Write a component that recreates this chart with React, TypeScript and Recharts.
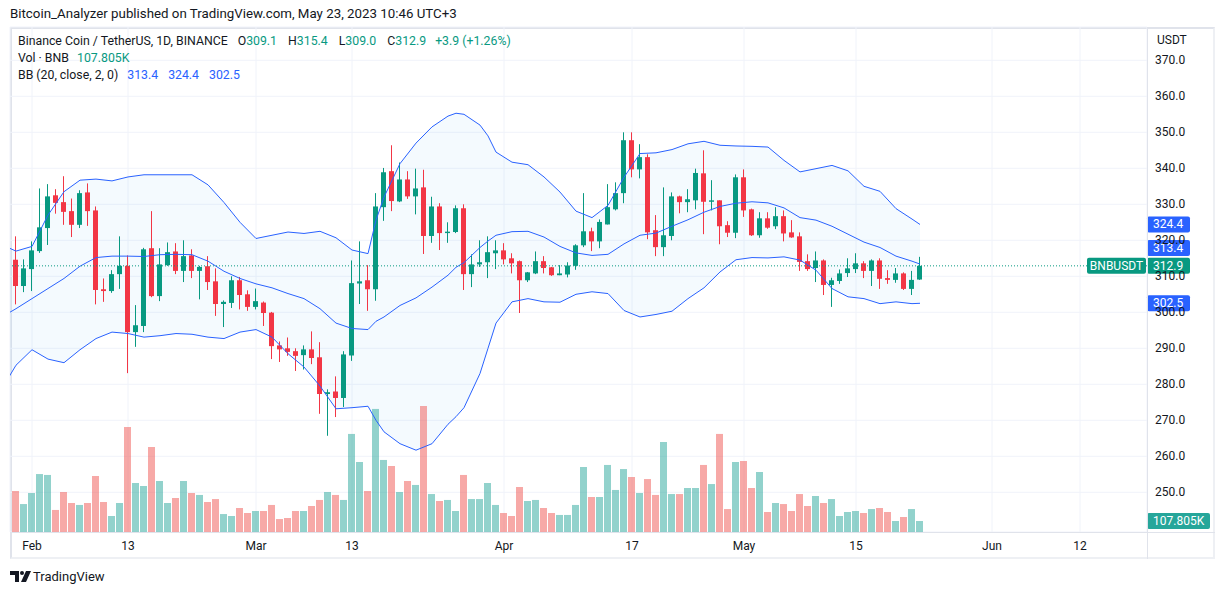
import React from 'react';
import {
  ComposedChart, Bar, Line, Area, XAxis, YAxis, CartesianGrid, ReferenceLine, Cell,
} from 'recharts';

const FONT = "'Trebuchet MS', Roboto, Ubuntu, sans-serif";
const TEXT = '#131722';
const UP = '#089981';
const DOWN = '#f23645';
const BB_BLUE = '#2962ff';
const GRID = '#f0f3fa';
const FRAME = '#e0e3eb';

// daily candles, Jan 30 .. May 23 (index 0 = Jan 30)
const opens = [
  314.6, 307.3, 312.0, 317.0, 323.4, 332.5, 330.6, 328.1, 324.3, 333.3,
  328.3, 306.4, 305.9, 310.6, 312.9, 294.5, 296.2, 317.8, 304.5, 313.1,
  316.9, 311.5, 315.8, 311.5, 312.8, 308.6, 302.3, 302.6, 308.9, 305.0,
  301.5, 302.7, 299.9, 290.8, 290.0, 289.2, 288.1, 289.7, 287.5, 277.3,
  278.0, 276.2, 288.0, 308.0, 308.9, 306.4, 329.2, 339.2, 330.8, 336.9,
  332.2, 334.7, 321.2, 329.4, 322.0, 322.3, 328.9, 310.6, 313.3, 313.9,
  316.4, 317.2, 315.0, 314.2, 308.9, 310.8, 314.2, 312.5, 310.3, 310.5,
  312.9, 318.6, 322.5, 319.7, 324.4, 328.6, 333.1, 347.8, 339.7, 343.1,
  322.8, 318.1, 321.2, 332.2, 330.6, 331.1, 338.6, 330.7, 331.1, 324.2,
  322.1, 337.5, 328.6, 321.4, 326.1, 323.9, 326.7, 322.2, 321.1, 314.2,
  312.3, 314.4, 307.6, 308.7, 310.9, 312.0, 313.6, 311.5, 314.4, 309.5,
  309.0, 310.8, 306.5, 309.1,
];
const highs = [
  321.1, 314.7, 319.7, 334.4, 335.6, 334.2, 337.8, 331.6, 333.9, 335.8,
  329.4, 309.4, 311.7, 321.1, 315.8, 302.0, 317.9, 328.1, 317.8, 319.4,
  319.2, 320.0, 317.5, 312.9, 315.6, 312.2, 303.3, 310.0, 309.8, 306.1,
  306.6, 303.0, 300.1, 291.9, 293.0, 290.0, 290.8, 294.7, 291.7, 278.6,
  282.2, 289.2, 314.4, 319.7, 313.1, 333.1, 340.1, 346.4, 341.6, 339.2,
  339.9, 339.6, 332.1, 330.3, 325.0, 329.7, 330.0, 316.1, 320.0, 321.1,
  320.0, 319.2, 316.4, 314.4, 311.2, 316.9, 315.6, 312.6, 313.1, 313.9,
  318.9, 333.1, 323.5, 325.8, 335.6, 336.1, 350.0, 350.0, 346.7, 343.9,
  327.0, 334.7, 333.3, 332.4, 334.2, 339.9, 345.0, 336.7, 331.1, 325.3,
  338.3, 339.7, 328.8, 327.8, 327.8, 329.2, 328.3, 325.6, 322.2, 316.1,
  316.9, 314.7, 309.6, 311.9, 315.0, 316.4, 314.2, 314.7, 315.0, 311.7,
  312.3, 311.1, 311.5, 315.4,
];
const lows = [
  302.2, 305.6, 305.9, 316.5, 318.7, 327.4, 324.3, 320.9, 323.4, 324.0,
  302.2, 302.9, 305.4, 306.5, 283.1, 290.4, 294.5, 304.2, 303.1, 312.9,
  310.6, 308.4, 309.5, 303.6, 306.2, 299.0, 295.9, 301.2, 300.8, 300.4,
  300.8, 296.2, 287.0, 286.2, 287.9, 283.7, 284.1, 285.6, 271.8, 265.7,
  270.9, 273.7, 286.5, 302.3, 300.4, 303.2, 325.4, 328.1, 330.6, 331.5,
  327.2, 316.2, 319.3, 317.3, 319.3, 322.0, 306.2, 307.0, 312.6, 309.5,
  312.0, 313.3, 310.8, 299.8, 308.4, 310.6, 310.8, 310.1, 310.3, 309.7,
  311.8, 318.1, 317.0, 317.8, 324.4, 328.3, 330.3, 337.5, 337.2, 320.3,
  315.6, 315.6, 320.0, 327.5, 327.8, 328.6, 321.7, 328.3, 318.9, 320.9,
  320.6, 326.5, 321.2, 320.7, 323.2, 323.1, 319.7, 320.7, 311.5, 311.5,
  308.4, 304.8, 301.5, 307.9, 309.8, 310.9, 309.5, 307.3, 306.5, 307.9,
  308.2, 306.2, 304.8, 309.0,
];
const closes = [
  307.3, 312.2, 317.2, 323.6, 332.2, 330.4, 327.9, 324.3, 333.1, 328.1,
  306.2, 305.9, 310.6, 312.9, 294.5, 296.4, 317.5, 304.5, 313.3, 316.7,
  311.5, 315.6, 311.5, 312.6, 308.4, 302.3, 302.9, 308.9, 304.8, 301.5,
  303.1, 299.8, 290.6, 289.7, 289.0, 287.9, 289.7, 287.3, 277.3, 277.8,
  276.2, 288.3, 308.1, 308.6, 306.4, 329.4, 338.9, 330.9, 336.9, 332.2,
  334.4, 321.2, 329.4, 322.0, 322.4, 328.9, 310.6, 313.3, 313.9, 316.7,
  317.2, 314.7, 313.6, 308.9, 311.1, 314.2, 312.3, 310.3, 310.8, 313.0,
  318.6, 322.5, 319.7, 325.1, 329.2, 333.1, 347.8, 339.7, 343.1, 322.2,
  318.1, 321.4, 332.2, 330.6, 331.4, 338.7, 330.7, 331.1, 323.9, 322.1,
  337.5, 328.3, 321.4, 326.1, 323.5, 326.7, 321.9, 320.8, 314.0, 312.0,
  314.4, 307.6, 308.9, 310.8, 312.2, 313.6, 311.5, 314.4, 309.3, 309.0,
  310.8, 306.5, 309.0, 312.9,
];
// volume in thousands of BNB
const volumes = [
  402, 274, 382, 568, 559, 216, 392, 284, 265, 284,
  549, 294, 157, 284, 1029, 480, 451, 833, 500, 284,
  333, 500, 382, 363, 294, 323, 176, 157, 235, 186,
  206, 206, 265, 127, 137, 206, 206, 255, 314, 392,
  363, 314, 961, 686, 402, 1206, 706, 647, 392, 500,
  461, 1235, 372, 304, 314, 206, 559, 323, 323, 480,
  265, 186, 157, 441, 304, 314, 235, 186, 167, 167,
  265, 637, 343, 343, 657, 412, 617, 539, 382, 519,
  363, 882, 372, 372, 431, 431, 657, 470, 961, 225,
  686, 696, 431, 588, 196, 284, 274, 206, 372, 255,
  353, 284, 323, 157, 196, 206, 186, 225, 235, 196,
  108, 147, 225, 107.805,
];

// Bollinger band (20, close, 2) at these day indices
const bbIdx = [
  -1, 0, 2, 4, 6, 8, 10, 12, 14, 16, 18, 20, 22, 24, 26, 28, 30, 32, 34, 36, 38,
  40, 42, 44, 45, 46, 48, 50, 52, 54, 55, 56, 58, 59, 60, 62, 64, 66, 68, 70, 72,
  74, 76, 78, 80, 82, 84, 86, 88, 90, 92, 94, 96, 98, 100, 102, 104, 106, 108, 110, 112, 113,
];
const bbUpper = [
  318.0, 317.0, 318.3, 327.0, 333.5, 336.7, 337.0, 336.5, 337.6, 338.2, 338.2, 338.2, 338.2, 335.4, 330.5, 325.0, 320.5, 321.4, 322.3, 321.9, 322.5,
  320.7, 317.3, 316.3, 325.6, 332.0, 341.3, 347.0, 351.5, 354.5, 355.3, 355.0, 352.0, 349.0, 344.5, 341.7, 341.0, 337.6, 333.4, 328.1, 326.3,
  329.7, 337.5, 344.1, 344.3, 345.2, 346.8, 347.5, 346.4, 346.2, 346.1, 345.9, 342.2, 339.0, 339.9, 340.8, 339.3, 335.0, 333.6, 328.8, 325.9, 324.4,
];
const bbBasis = [
  299.7, 301.0, 303.8, 306.6, 309.4, 312.8, 315.2, 315.6, 315.6, 315.5, 316.0, 316.1, 316.0, 314.2, 311.4, 309.4, 307.9, 306.8, 305.2, 303.8, 301.0,
  297.0, 295.5, 295.2, 297.5, 298.7, 301.9, 304.0, 307.0, 310.3, 312.5, 313.8, 318.0, 319.8, 321.4, 322.4, 322.5, 320.9, 318.3, 316.5, 315.8,
  316.1, 319.0, 321.4, 322.0, 323.9, 325.7, 327.8, 329.4, 330.3, 330.7, 330.4, 329.0, 326.3, 325.6, 323.9, 321.7, 319.5, 318.0, 315.6, 314.2, 313.4,
];
const bbLower = [
  281.6, 285.3, 289.6, 287.0, 286.0, 289.6, 292.7, 294.5, 294.1, 293.1, 293.5, 294.1, 293.9, 293.1, 292.7, 294.5, 295.2, 293.1, 288.5, 284.8, 279.5,
  273.2, 273.5, 273.9, 270.0, 266.8, 263.5, 261.7, 263.5, 268.9, 271.0, 273.5, 283.0, 290.0, 297.0, 302.9, 303.8, 302.9, 302.8, 305.0, 305.7,
  305.2, 300.5, 298.7, 299.4, 300.3, 303.8, 306.8, 311.2, 314.6, 315.2, 315.1, 315.4, 314.5, 311.7, 306.6, 304.3, 303.8, 302.4, 302.9, 302.4, 302.5,
];

const xTicks = [2, 14, 30, 42, 61, 77, 91, 105, 122, 133];
const xTickLabels = ['Feb', '13', 'Mar', '13', 'Apr', '17', 'May', '15', 'Jun', '12'];
const yTicks = [250, 260, 270, 280, 290, 300, 310, 320, 330, 340, 350, 360, 370];

const candles = opens.map((o, i) => ({
  i, o, h: highs[i], l: lows[i], c: closes[i],
  range: [lows[i], highs[i]],
  vol: volumes[i],
}));

const bbData = bbIdx.map((i, k) => ({
  i, up: bbUpper[k], mid: bbBasis[k], lo: bbLower[k], band: [bbLower[k], bbUpper[k]],
}));

const last = candles[candles.length - 1];
const prev = candles[candles.length - 2];
const lastBB = bbData[bbData.length - 1];
const change = last.c - prev.c;

function Candle(props: any) {
  const { x, y, width, height, payload } = props;
  const { o, h, l, c } = payload;
  const top = Math.min(y, y + height);
  const span = Math.abs(height);
  const k = h > l ? span / (h - l) : 0;
  const color = c >= o ? UP : DOWN;
  const cx = Math.round(x + width / 2) - 0.5;
  const bodyTop = top + (h - Math.max(o, c)) * k;
  const bodyH = Math.max(1, Math.abs(o - c) * k);
  return (
    <g>
      <line x1={cx} x2={cx} y1={top} y2={top + span} stroke={color} strokeWidth={1} />
      <rect x={cx - 2.5} y={bodyTop} width={5} height={bodyH} fill={color} />
    </g>
  );
}

const XTick = ({ x, y, payload }: any) => (
  <text x={x} y={y} dy={18} textAnchor="middle" fontSize={12} fill={TEXT} fontFamily={FONT}>
    {xTickLabels[xTicks.indexOf(payload.value)]}
  </text>
);

const YTick = ({ x, y, payload }: any) => (
  <text x={x} y={y} dy={4} textAnchor="start" fontSize={12} fill={TEXT} fontFamily={FONT}>
    {Number(payload.value).toFixed(1)}
  </text>
);

function PriceTag({ viewBox, text, color, w = 43, dy = 0, symbol }: any) {
  if (!viewBox) return null;
  const ax = viewBox.x + viewBox.width;
  const cy = viewBox.y + dy;
  return (
    <g fontFamily={FONT} fontSize={12}>
      {symbol && (
        <g>
          <rect x={ax - 60} y={cy - 8} width={59} height={16} rx={2} fill={color} />
          <text x={ax - 30.5} y={cy} dy={4} textAnchor="middle" fill="#fff">{symbol}</text>
        </g>
      )}
      <rect x={ax} y={cy - 8} width={w} height={16} rx={2} fill={color} />
      <text x={ax + 6} y={cy} dy={4} fill="#fff">{text}</text>
    </g>
  );
}

function TvLogo() {
  return (
    <svg width={22} height={12} viewBox="0 0 22 12" style={{ position: 'absolute', left: 10, top: 571 }}>
      <path d="M0 0h9v11H5V4H0z" fill={TEXT} />
      <circle cx={12} cy={2} r={2} fill={TEXT} />
      <path d="M16 0h5l-5 11h-5z" fill={TEXT} />
    </svg>
  );
}

export default function App() {
  const green = { color: UP };
  const blue = { color: BB_BLUE };
  return (
    <div style={{ position: 'relative', width: 1225, height: 595, background: '#fff', fontFamily: FONT, color: TEXT }}>
      <style>{'body{margin:0}'}</style>
      <div style={{ position: 'absolute', left: 10, top: 6, fontSize: 13.3, whiteSpace: 'nowrap' }}>
        Bitcoin_Analyzer published on TradingView.com, May 23, 2023 10:46 UTC+3
      </div>

      <div style={{ position: 'absolute', left: 10, top: 27, width: 1205, height: 532, border: `2px solid #eef0f4`, boxSizing: 'border-box', borderTopColor: FRAME, borderLeftColor: FRAME }} />

      <ComposedChart
        width={1225}
        height={595}
        data={candles}
        margin={{ top: 27, right: 0, bottom: 36, left: 10 }}
        style={{ position: 'absolute', left: 0, top: 0 }}
      >
        <CartesianGrid stroke={GRID} />
        <XAxis
          dataKey="i" type="number" domain={[-0.75, 141.375]} allowDataOverflow
          ticks={xTicks} interval={0} height={27} tickSize={0} tickMargin={0}
          axisLine={false} tickLine={false} tick={<XTick />}
        />
        <XAxis xAxisId="v" dataKey="i" type="number" domain={[-0.75, 141.375]} allowDataOverflow hide />
        <YAxis
          orientation="right" type="number" domain={[238.97, 379.25]} allowDataOverflow
          ticks={yTicks} interval={0} width={78} tickSize={0} tickMargin={8}
          axisLine={false} tickLine={false} tick={<YTick />}
        />
        <YAxis yAxisId="vol" type="number" domain={[0, 4949]} allowDataOverflow hide />

        <Bar xAxisId="v" yAxisId="vol" dataKey="vol" barSize={7} isAnimationActive={false}>
          {candles.map((d) => (
            <Cell key={d.i} fill={d.c >= d.o ? '#26a69a' : '#ef5350'} fillOpacity={0.5} />
          ))}
        </Bar>

        <Area data={bbData} dataKey="band" type="linear" stroke="none" fill="#2196f3" fillOpacity={0.05} isAnimationActive={false} />
        <Line data={bbData} dataKey="up" type="linear" stroke={BB_BLUE} strokeWidth={1} dot={false} isAnimationActive={false} />
        <Line data={bbData} dataKey="mid" type="linear" stroke={BB_BLUE} strokeWidth={1} dot={false} isAnimationActive={false} />
        <Line data={bbData} dataKey="lo" type="linear" stroke={BB_BLUE} strokeWidth={1} dot={false} isAnimationActive={false} />

        <Bar dataKey="range" barSize={5} shape={<Candle />} isAnimationActive={false} />

        <ReferenceLine
          y={last.c} stroke={UP} strokeDasharray="1 2"
          label={<PriceTag text={last.c.toFixed(1)} color={UP} symbol="BNBUSDT" />}
        />
        <ReferenceLine y={lastBB.up} stroke="none" label={<PriceTag text={lastBB.up.toFixed(1)} color={BB_BLUE} />} />
        <ReferenceLine y={lastBB.mid} stroke="none" label={<PriceTag text={lastBB.mid.toFixed(1)} color={BB_BLUE} dy={-16} />} />
        <ReferenceLine y={lastBB.lo} stroke="none" label={<PriceTag text={lastBB.lo.toFixed(1)} color={BB_BLUE} />} />
        <ReferenceLine yAxisId="vol" y={last.vol} stroke="none" label={<PriceTag text={`${last.vol.toFixed(3)}K`} color="#26a69a" w={63} />} />
      </ComposedChart>

      <div style={{ position: 'absolute', left: 10, top: 532, width: 1205, height: 1, background: FRAME }} />
      <div style={{ position: 'absolute', left: 1147, top: 27, width: 1, height: 532, background: FRAME }} />

      <div style={{ position: 'absolute', left: 1157, top: 33, fontSize: 12 }}>USDT</div>

      <div style={{ position: 'absolute', left: 18, top: 34, fontSize: 12.3, whiteSpace: 'nowrap' }}>
        <span>Binance Coin / TetherUS, 1D, BINANCE</span>
        <span style={{ marginLeft: 10 }}>O<span style={green}>{last.o.toFixed(1)}</span></span>
        <span style={{ marginLeft: 11 }}>H<span style={green}>{last.h.toFixed(1)}</span></span>
        <span style={{ marginLeft: 11 }}>L<span style={green}>{last.l.toFixed(1)}</span></span>
        <span style={{ marginLeft: 11 }}>C<span style={green}>{last.c.toFixed(1)}</span></span>
        <span style={{ marginLeft: 9, ...green }}>
          +{change.toFixed(1)} (+{((change / prev.c) * 100).toFixed(2)}%)
        </span>
      </div>
      <div style={{ position: 'absolute', left: 18, top: 51, fontSize: 12.3, whiteSpace: 'nowrap' }}>
        Vol · BNB <span style={{ marginLeft: 5, ...green }}>{last.vol.toFixed(3)}K</span>
      </div>
      <div style={{ position: 'absolute', left: 18, top: 68, fontSize: 12.3, whiteSpace: 'nowrap' }}>
        BB (20, close, 2, 0)
        <span style={{ marginLeft: 9, ...blue }}>{lastBB.mid.toFixed(1)}</span>
        <span style={{ marginLeft: 10, ...blue }}>{lastBB.up.toFixed(1)}</span>
        <span style={{ marginLeft: 10, ...blue }}>{lastBB.lo.toFixed(1)}</span>
      </div>

      <TvLogo />
      <div style={{ position: 'absolute', left: 33, top: 569, fontSize: 13 }}>TradingView</div>
    </div>
  );
}
